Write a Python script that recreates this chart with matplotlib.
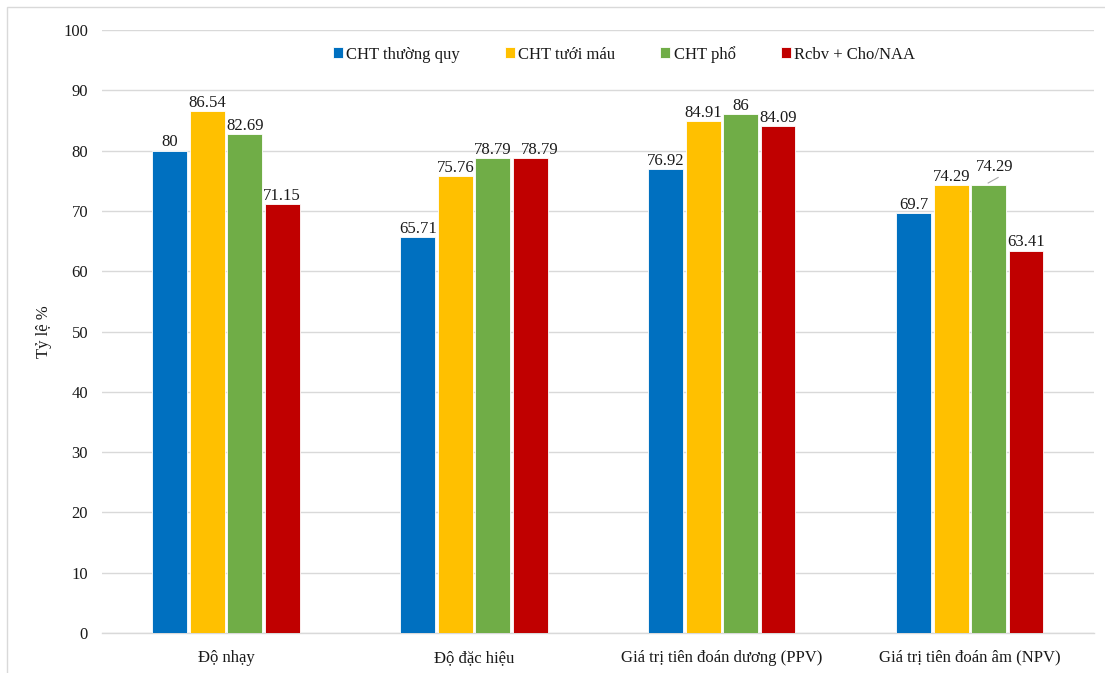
import matplotlib
matplotlib.use("Agg")
import matplotlib.pyplot as plt
import numpy as np
from matplotlib.patches import Rectangle

plt.rcParams['font.family'] = ['Liberation Serif', 'DejaVu Serif']

categories = ["Độ nhạy", "Độ đặc hiệu", "Giá trị tiên đoán dương (PPV)", "Giá trị tiên đoán âm (NPV)"]
series_names = ["CHT thường quy", "CHT tưới máu", "CHT phổ", "Rcbv + Cho/NAA"]
cht_thuong_quy = [80, 65.71, 76.92, 69.7]
cht_tuoi_mau = [86.54, 75.76, 84.91, 74.29]
cht_pho = [82.69, 78.79, 86, 74.29]
rcbv_cho_naa = [71.15, 78.79, 84.09, 63.41]
yticks = list(range(0, 101, 10))

series = [cht_thuong_quy, cht_tuoi_mau, cht_pho, rcbv_cho_naa]
colors = ["#0070C0", "#FFC000", "#70AD47", "#C00000"]
FS = 12
TXT = "#1a1a1a"

fig = plt.figure(figsize=(11.05, 6.73), dpi=100)
ax = fig.add_axes([0.0923, 0.0594, 0.8977, 0.896])

x = np.arange(len(categories))
pitch = 0.151
width = 0.14
for i, (vals, col, name) in enumerate(zip(series, colors, series_names)):
    pos = x + (i - 1.5) * pitch
    ax.bar(pos, vals, width=width, color=col, edgecolor="white", linewidth=0.6,
           label=name, zorder=3)
    for j, (px, v) in enumerate(zip(pos, vals)):
        label = f"{v:g}"
        if i == 2 and j == 3:
            # label pushed up and right, joined to its bar by a leader line
            ax.annotate(label, xy=(px, v), xytext=(4, 10), textcoords="offset points",
                        ha="center", va="baseline", fontsize=FS, color=TXT, zorder=4)
            ax.plot([px - 0.004, px + 0.04], [v + 0.3, v + 1.3], color="#a6a6a6",
                    lw=0.8, zorder=4, solid_capstyle="butt")
        else:
            # nudge a label sideways where it would collide with its neighbour
            dx = 7 if (i == 3 and j == 1) else 0
            ax.annotate(label, xy=(px, v), xytext=(dx, 3), textcoords="offset points",
                        ha="center", va="baseline", fontsize=FS, color=TXT, zorder=4)

ax.set_xlim(-0.5, 3.5)
ax.set_ylim(0, 100)
ax.set_yticks(yticks)
ax.set_xticks(x)
ax.set_xticklabels(categories)
ax.tick_params(axis="both", length=0, labelsize=FS, colors=TXT)
ax.tick_params(axis="y", pad=10)
ax.tick_params(axis="x", pad=12)
ax.yaxis.grid(True, color="#d9d9d9", linewidth=1.0, zorder=0)
ax.set_axisbelow(True)
for s in ["top", "right", "left"]:
    ax.spines[s].set_visible(False)
ax.spines["bottom"].set_color("#d9d9d9")
ax.spines["bottom"].set_linewidth(1.0)

ax.set_ylabel("Tỷ lệ %", fontsize=FS, color=TXT, labelpad=8)

leg = ax.legend(loc="center", bbox_to_anchor=(0.526, 0.960), ncol=4,
                frameon=False, fontsize=FS, handlelength=0.6, handleheight=0.6,
                handletextpad=0.2, columnspacing=2.7)
for t in leg.get_texts():
    t.set_color(TXT)

# outer frame of the chart area
fig.patches.append(Rectangle((7 / 1105, -0.01), 1.05, 1 - 7 / 673 + 0.01,
                             transform=fig.transFigure, fill=False,
                             edgecolor="#d9d9d9", linewidth=1.0))

fig.savefig("out.png", dpi=100)
